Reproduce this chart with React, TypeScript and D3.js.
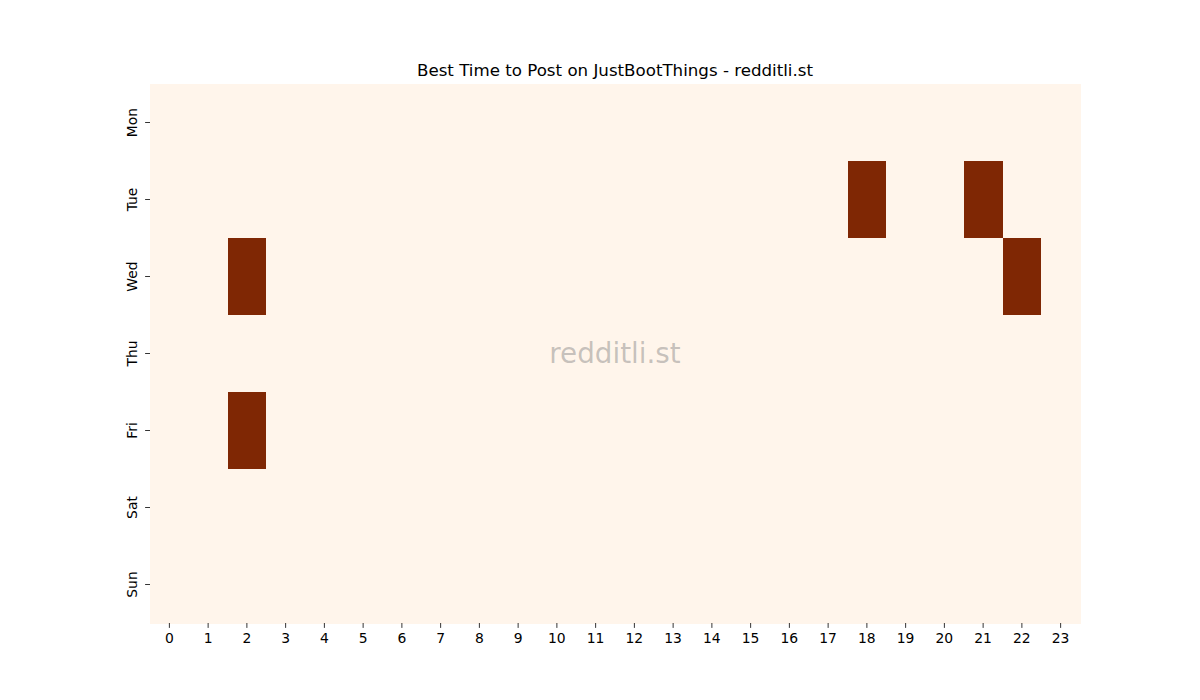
import React from "react";
import * as d3 from "d3";

const days = ["Mon", "Tue", "Wed", "Thu", "Fri", "Sat", "Sun"];
const hours = Array.from({ length: 24 }, (_, i) => String(i));
// values[day][hour]
const values: number[][] = [
  [0,0,0,0,0,0,0,0,0,0,0,0,0,0,0,0,0,0,0,0,0,0,0,0],
  [0,0,0,0,0,0,0,0,0,0,0,0,0,0,0,0,0,0,1,0,0,1,0,0],
  [0,0,1,0,0,0,0,0,0,0,0,0,0,0,0,0,0,0,0,0,0,0,1,0],
  [0,0,0,0,0,0,0,0,0,0,0,0,0,0,0,0,0,0,0,0,0,0,0,0],
  [0,0,1,0,0,0,0,0,0,0,0,0,0,0,0,0,0,0,0,0,0,0,0,0],
  [0,0,0,0,0,0,0,0,0,0,0,0,0,0,0,0,0,0,0,0,0,0,0,0],
  [0,0,0,0,0,0,0,0,0,0,0,0,0,0,0,0,0,0,0,0,0,0,0,0],
];
const title = "Best Time to Post on JustBootThings - redditli.st";
const watermark = "redditli.st";

export default function App() {
  const W = 1200, H = 700;
  const left = 150, right = 1080, top = 84, bottom = 623;
  const x = d3.scaleBand().domain(hours).range([left, right]);
  const y = d3.scaleBand().domain(days).range([top, bottom]);
  const color = d3.scaleSequential(d3.interpolateOranges).domain([0, 1]);
  const font = "DejaVu Sans, sans-serif";
  const cells: { d: string; h: string; v: number }[] = [];
  days.forEach((d, i) => hours.forEach((h, j) => cells.push({ d, h, v: values[i][j] })));
  return (
    <svg width={W} height={H} style={{ position: "absolute", left: 0, top: 0 }} fontFamily={font}>
      <rect x={0} y={0} width={W} height={H} fill="#ffffff" />
      {cells.map((c) => (
        <rect
          key={c.d + c.h}
          x={x(c.h)!}
          y={y(c.d)!}
          width={x.bandwidth() + 0.5}
          height={y.bandwidth() + 0.5}
          fill={color(c.v)}
          shapeRendering="crispEdges"
        />
      ))}
      {hours.map((h) => {
        const cx = x(h)! + x.bandwidth() / 2;
        return (
          <g key={h}>
            <line x1={cx} x2={cx} y1={bottom} y2={bottom + 4.9} stroke="#000" strokeWidth={0.8} />
            <text x={cx} y={bottom + 4.9 + 4.9 + 10.5} textAnchor="middle" fontSize={13.9} fill="#000">
              {h}
            </text>
          </g>
        );
      })}
      {days.map((d) => {
        const cy = y(d)! + y.bandwidth() / 2;
        return (
          <g key={d}>
            <line x1={left - 4.9} x2={left} y1={cy} y2={cy} stroke="#000" strokeWidth={0.8} />
            <text
              transform={`translate(${left - 4.9 - 4.9 - 3.5},${cy}) rotate(-90)`}
              textAnchor="middle"
              fontSize={13.9}
              fill="#000"
            >
              {d}
            </text>
          </g>
        );
      })}
      <text x={(left + right) / 2} y={top - 8.3} textAnchor="middle" fontSize={16.67} fill="#000">
        {title}
      </text>
      <text
        x={(left + right) / 2}
        y={(top + bottom) / 2}
        textAnchor="middle"
        dominantBaseline="central"
        fontSize={27.8}
        fill="#808080"
        fillOpacity={0.45}
      >
        {watermark}
      </text>
    </svg>
  );
}
